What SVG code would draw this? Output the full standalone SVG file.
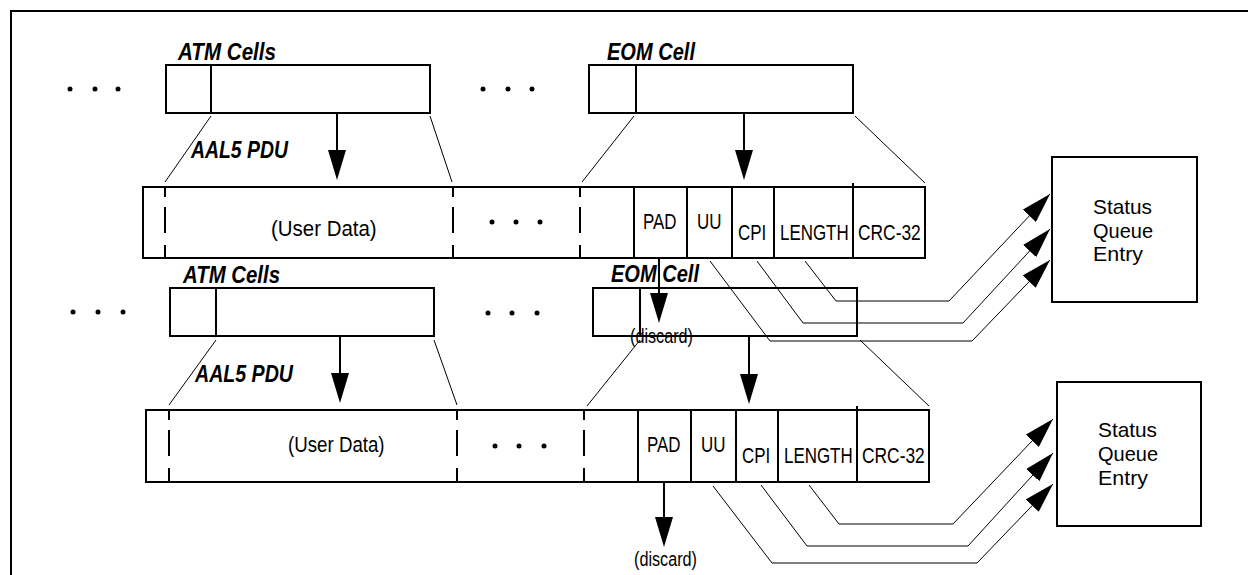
<svg xmlns="http://www.w3.org/2000/svg" width="1248" height="575" viewBox="0 0 1248 575">
  <defs>
    <style>
      .frame{fill:none;stroke:#000;stroke-width:2}
      .box{fill:none;stroke:#000;stroke-width:2}
      .div{stroke:#000;stroke-width:2}
      .dash{stroke:#000;stroke-width:2;stroke-dasharray:10 10 26 12 13}
      .thin{fill:none;stroke:#000;stroke-width:1}
      .arr{fill:none;stroke:#000;stroke-width:2;marker-end:url(#ahb)}
      .conn{fill:none;stroke:#000;stroke-width:1;marker-end:url(#ah)}
      .lbl{font-family:"Liberation Sans",Arial,sans-serif;font-weight:bold;font-style:italic;font-size:23px;fill:#000}
      .txt{font-family:"Liberation Sans",Arial,sans-serif;font-size:22px;fill:#000}
      .sm{font-family:"Liberation Sans",Arial,sans-serif;font-size:20px;fill:#000}
      .st{font-family:"Liberation Sans",Arial,sans-serif;font-size:21px;fill:#000}
      .dot{fill:#000}
    </style>
    <!-- filled arrowhead, tip at the path end (thin lines) -->
    <marker id="ah" viewBox="0 0 30 18" refX="30" refY="9" markerWidth="30" markerHeight="18" markerUnits="userSpaceOnUse" orient="auto">
      <path d="M0,0 L30,9 L0,18 z" fill="#000"/>
    </marker>
    <!-- filled arrowhead, tip 20 units past the path end (thick lines) -->
    <marker id="ahb" viewBox="0 0 30 18" refX="10" refY="9" markerWidth="30" markerHeight="18" markerUnits="userSpaceOnUse" orient="auto">
      <path d="M0,0 L30,9 L0,18 z" fill="#000"/>
    </marker>
  </defs>

  <rect width="1248" height="575" fill="#fff"/>
  <path class="frame" d="M11,575 V11 H1248"/>

  <!-- ===== upper sequence ===== -->
  <g id="dots-1a">
    <circle class="dot" cx="70" cy="89" r="2.5"/>
    <circle class="dot" cx="95" cy="89" r="2.5"/>
    <circle class="dot" cx="118" cy="89" r="2.5"/>
  </g>
  <g id="atm-cells-1">
    <text class="lbl" x="178" y="60" textLength="98" lengthAdjust="spacingAndGlyphs">ATM Cells</text>
    <rect class="box" x="166" y="65" width="264" height="48"/>
    <line class="div" x1="211" y1="65" x2="211" y2="113"/>
  </g>
  <g id="dots-1b">
    <circle class="dot" cx="483" cy="89" r="2.5"/>
    <circle class="dot" cx="508" cy="89" r="2.5"/>
    <circle class="dot" cx="532" cy="89" r="2.5"/>
  </g>
  <g id="eom-cell-1">
    <text class="lbl" x="607" y="60" textLength="88" lengthAdjust="spacingAndGlyphs">EOM Cell</text>
    <rect class="box" x="589" y="65" width="264" height="48"/>
    <line class="div" x1="636" y1="65" x2="636" y2="113"/>
  </g>
  <g id="aal5-pdu-1">
    <text class="lbl" x="191" y="158" textLength="97" lengthAdjust="spacingAndGlyphs">AAL5 PDU</text>
    <rect class="box" x="143" y="187" width="782" height="71"/>
    <line class="dash" x1="165" y1="187" x2="165" y2="258"/>
    <line class="dash" x1="453" y1="187" x2="453" y2="258"/>
    <line class="dash" x1="580" y1="187" x2="580" y2="258"/>
    <line class="div" x1="634" y1="187" x2="634" y2="258"/>
    <line class="div" x1="687" y1="187" x2="687" y2="258"/>
    <line class="div" x1="732" y1="187" x2="732" y2="258"/>
    <line class="div" x1="774" y1="187" x2="774" y2="258"/>
    <line class="div" x1="853" y1="183" x2="853" y2="258"/>
    <text class="txt" transform="translate(271,236) scale(0.93,1)">(User Data)</text>
    <circle class="dot" cx="492" cy="222" r="2.5"/>
    <circle class="dot" cx="516" cy="222" r="2.5"/>
    <circle class="dot" cx="540" cy="222" r="2.5"/>
    <text class="txt" transform="translate(643,229) scale(0.77,1)">PAD</text>
    <text class="txt" transform="translate(697,229) scale(0.77,1)">UU</text>
    <text class="txt" transform="translate(738,240) scale(0.77,1)">CPI</text>
    <text class="txt" transform="translate(780,240) scale(0.77,1)">LENGTH</text>
    <text class="txt" transform="translate(858,240) scale(0.79,1)">CRC-32</text>
  </g>
  <g id="discard-1">
    <text class="sm" x="630" y="343" textLength="63" lengthAdjust="spacingAndGlyphs">(discard)</text>
  </g>
  <g id="status-queue-1">
    <rect class="box" x="1052" y="157" width="145" height="145"/>
    <text class="st" x="1093" y="214" textLength="59" lengthAdjust="spacingAndGlyphs">Status</text>
    <text class="st" x="1093" y="238" textLength="60" lengthAdjust="spacingAndGlyphs">Queue</text>
    <text class="st" x="1093" y="261" textLength="50" lengthAdjust="spacingAndGlyphs">Entry</text>
  </g>

  <!-- ===== lower sequence ===== -->
  <g id="dots-2a">
    <circle class="dot" cx="73" cy="312" r="2.5"/>
    <circle class="dot" cx="98" cy="312" r="2.5"/>
    <circle class="dot" cx="123" cy="312" r="2.5"/>
  </g>
  <g id="atm-cells-2">
    <text class="lbl" x="183" y="283" textLength="97" lengthAdjust="spacingAndGlyphs">ATM Cells</text>
    <rect class="box" x="170" y="288" width="264" height="48"/>
    <line class="div" x1="216" y1="288" x2="216" y2="336"/>
  </g>
  <g id="dots-2b">
    <circle class="dot" cx="488" cy="313" r="2.5"/>
    <circle class="dot" cx="512" cy="313" r="2.5"/>
    <circle class="dot" cx="537" cy="313" r="2.5"/>
  </g>
  <g id="eom-cell-2">
    <text class="lbl" x="611" y="282" textLength="88" lengthAdjust="spacingAndGlyphs">EOM Cell</text>
    <rect class="box" x="593" y="288" width="264" height="48"/>
    <line class="div" x1="640" y1="288" x2="640" y2="336"/>
  </g>
  <g id="aal5-pdu-2">
    <text class="lbl" x="195" y="382" textLength="98" lengthAdjust="spacingAndGlyphs">AAL5 PDU</text>
    <rect class="box" x="146" y="410" width="783" height="72"/>
    <line class="dash" x1="169" y1="410" x2="169" y2="482"/>
    <line class="dash" x1="457" y1="410" x2="457" y2="482"/>
    <line class="dash" x1="584" y1="410" x2="584" y2="482"/>
    <line class="div" x1="638" y1="410" x2="638" y2="482"/>
    <line class="div" x1="691" y1="410" x2="691" y2="482"/>
    <line class="div" x1="736" y1="410" x2="736" y2="482"/>
    <line class="div" x1="778" y1="410" x2="778" y2="482"/>
    <line class="div" x1="857" y1="406" x2="857" y2="482"/>
    <text class="txt" transform="translate(288,452) scale(0.85,1)">(User Data)</text>
    <circle class="dot" cx="495" cy="446" r="2.5"/>
    <circle class="dot" cx="519" cy="446" r="2.5"/>
    <circle class="dot" cx="544" cy="446" r="2.5"/>
    <text class="txt" transform="translate(647,452) scale(0.77,1)">PAD</text>
    <text class="txt" transform="translate(701,452) scale(0.77,1)">UU</text>
    <text class="txt" transform="translate(742,463) scale(0.77,1)">CPI</text>
    <text class="txt" transform="translate(784,463) scale(0.77,1)">LENGTH</text>
    <text class="txt" transform="translate(862,463) scale(0.79,1)">CRC-32</text>
  </g>
  <g id="discard-2">
    <text class="sm" x="634" y="566" textLength="63" lengthAdjust="spacingAndGlyphs">(discard)</text>
  </g>
  <g id="status-queue-2">
    <rect class="box" x="1057" y="382" width="144" height="144"/>
    <text class="st" x="1098" y="437" textLength="59" lengthAdjust="spacingAndGlyphs">Status</text>
    <text class="st" x="1098" y="461" textLength="60" lengthAdjust="spacingAndGlyphs">Queue</text>
    <text class="st" x="1098" y="485" textLength="50" lengthAdjust="spacingAndGlyphs">Entry</text>
  </g>

  <!-- ===== connectors ===== -->
  <g id="connectors">
    <!-- cell-to-PDU expansion guides -->
    <line class="thin" x1="211" y1="116" x2="165" y2="182"/>
    <line class="thin" x1="430" y1="116" x2="452" y2="182"/>
    <line class="thin" x1="634" y1="116" x2="582" y2="182"/>
    <line class="thin" x1="855" y1="116" x2="925" y2="183"/>
    <line class="thin" x1="216" y1="340" x2="169" y2="405"/>
    <line class="thin" x1="434" y1="340" x2="457" y2="405"/>
    <line class="thin" x1="640" y1="340" x2="587" y2="406"/>
    <line class="thin" x1="860" y1="340" x2="929" y2="406"/>

    <!-- payload arrows -->
    <line class="arr" x1="337" y1="113" x2="337" y2="160"/>
    <line class="arr" x1="744" y1="113" x2="744" y2="160"/>
    <line class="arr" x1="659" y1="258" x2="659" y2="303"/>
    <line class="arr" x1="340" y1="336" x2="340" y2="383"/>
    <line class="arr" x1="749" y1="336" x2="749" y2="384"/>
    <line class="arr" x1="664" y1="482" x2="664" y2="527"/>

    <!-- trailer fields to status queue -->
    <path class="conn" d="M805,261 L836,301 H949 L1050,194"/>
    <path class="conn" d="M757,261 L803,323 H963 L1050,229"/>
    <path class="conn" d="M710,261 L770,341 H972 L1050,260"/>
    <path class="conn" d="M809,485 L839,524 H953 L1053,419"/>
    <path class="conn" d="M761,485 L807,546 H968 L1053,453"/>
    <path class="conn" d="M713,486 L772,563 H977 L1053,484"/>
  </g>
</svg>
